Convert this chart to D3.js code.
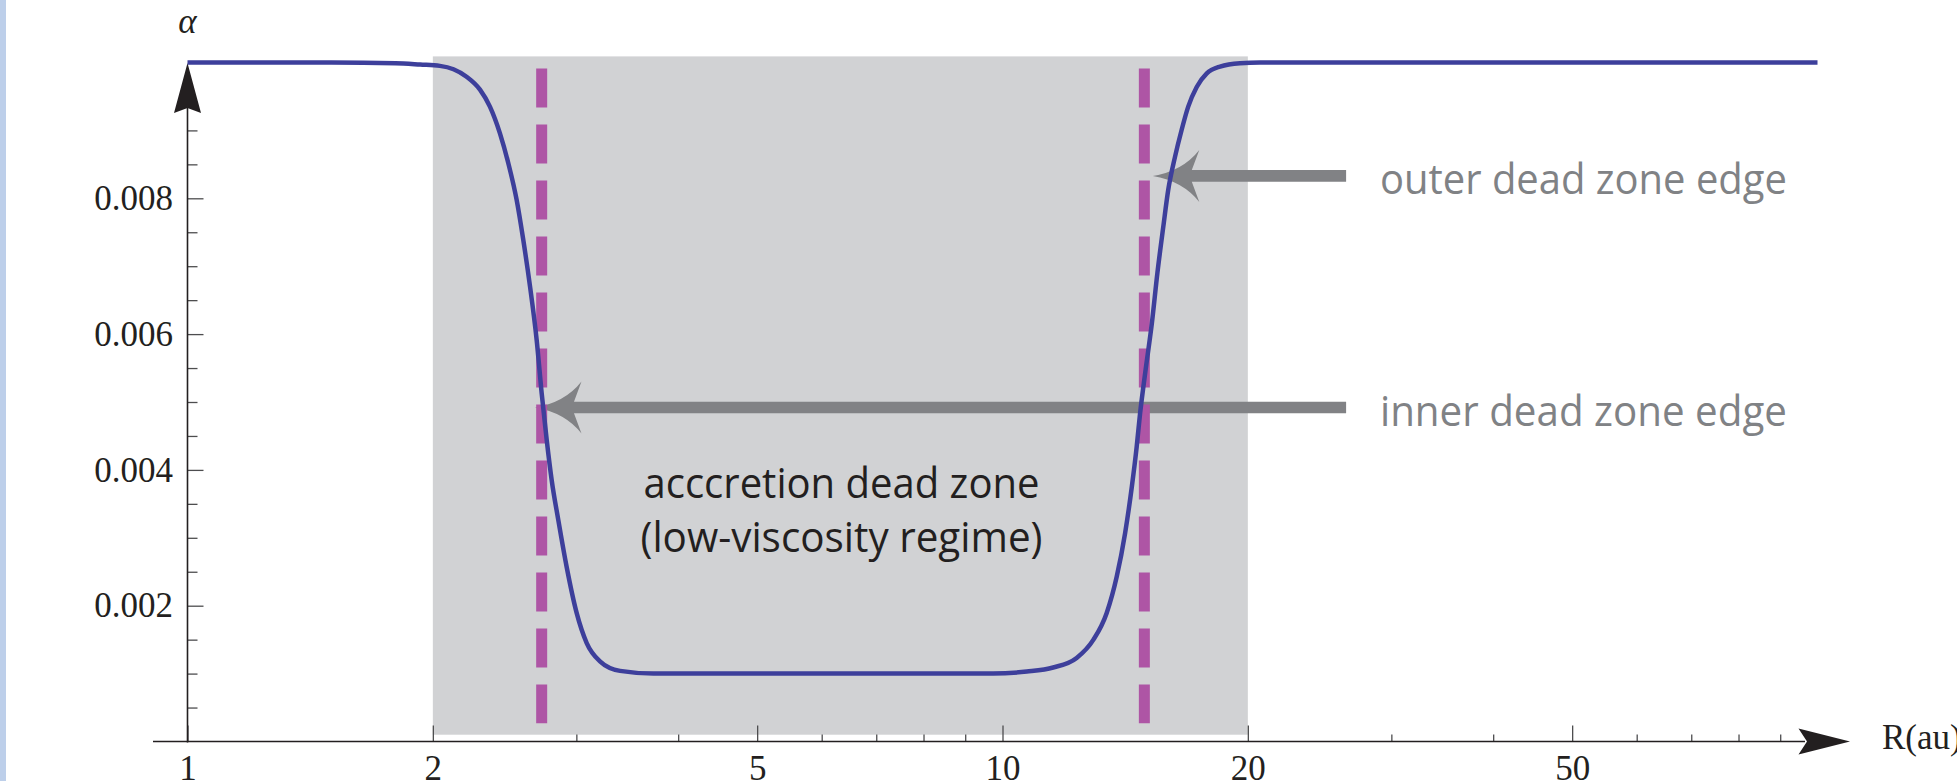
<!DOCTYPE html>
<html><head><meta charset="utf-8">
<script src="https://cdn.jsdelivr.net/npm/d3@7"></script>
<style>html,body{margin:0;padding:0;background:#fff;overflow:hidden}</style>
</head><body><svg id="chart" width="1957" height="781"></svg>
<script>
// ---- data ----
const radiusAU = [1, 1.5, 1.8, 1.93, 2.04, 2.12, 2.2, 2.285, 2.35, 2.417, 2.475, 2.534, 2.582, 2.632, 2.682, 2.72, 2.759, 2.798, 2.851, 2.919, 3.003, 3.089, 3.207, 3.394, 3.73, 4.5, 6, 8.87, 9.74, 10.71, 11.54, 12.33, 12.93, 13.42, 13.81, 14.14, 14.41, 14.61, 14.75, 14.89, 15.0, 15.25, 15.49, 15.75, 15.97, 16.28, 16.59, 16.9, 17.31, 17.81, 18.49, 19.56, 20.7, 30, 100];
const alphaValues = [0.01, 0.01, 0.00999, 0.00997, 0.00995, 0.0099, 0.00979, 0.0096, 0.00935, 0.00896, 0.00852, 0.00798, 0.00739, 0.0067, 0.00591, 0.00513, 0.00444, 0.00385, 0.00326, 0.00257, 0.00189, 0.00145, 0.00118, 0.00104, 0.001, 0.001, 0.001, 0.001, 0.001, 0.00103, 0.00109, 0.00123, 0.0015, 0.00189, 0.00243, 0.00307, 0.00375, 0.00434, 0.00483, 0.00523, 0.00552, 0.00616, 0.0069, 0.00758, 0.00812, 0.00861, 0.00901, 0.00935, 0.00964, 0.00984, 0.00994, 0.00999, 0.01, 0.01, 0.01];
const xTickMajor = [1, 2, 5, 10, 20, 50];
const xTickLabels = ["1", "2", "5", "10", "20", "50"];
const xTickMinor = [3, 4, 6, 7, 8, 9, 30, 40, 60, 70, 80, 90];
const yTickMajor = [0.002, 0.004, 0.006, 0.008];
const yTickLabels = ["0.002", "0.004", "0.006", "0.008"];
const yTickMinor = [0.0005, 0.001, 0.0015, 0.0025, 0.003, 0.0035, 0.0045, 0.005, 0.0055, 0.0065, 0.007, 0.0075, 0.0085, 0.009];
const deadZoneAU = [2, 20];
const deadZoneAlpha = [0.0001, 0.01009];
const edgeRadiiAU = [2.72, 14.93];
const edgeLineAlpha = [0.00027, 0.00991];
const annotationTexts = ["outer dead zone edge", "inner dead zone edge"];
const annotationTipAU = [15.29, 2.669];
const annotationTipAlpha = [0.00833, 0.00492];
const annotationTailAU = 26.4;
const annotationLabelAU = 29.05;
const zoneTextLines = ["acccretion dead zone", "(low-viscosity regime)"];
const xAxisTitle = "R(au)";
const yAxisTitle = "\u03B1";

// ---- drawing ----
const W = 1957, H = 781;
const svg = d3.select('#chart');
const x = d3.scaleLog().domain([1, 100]).range([187.5, 1817.5]);
const y = d3.scaleLinear().domain([0, 0.01]).range([741.5, 62.5]);
const serif = '"Liberation Serif", "Times New Roman", serif';
const sans = '"Open Sans", "Noto Sans", sans-serif';
const ink = '#231f20';

svg.append('rect').attr('x', 0).attr('y', 0).attr('width', 6).attr('height', H).attr('fill', '#bdcfea');

// dead zone band
svg.append('rect')
  .attr('x', x(deadZoneAU[0])).attr('width', x(deadZoneAU[1]) - x(deadZoneAU[0]))
  .attr('y', y(deadZoneAlpha[1])).attr('height', y(deadZoneAlpha[0]) - y(deadZoneAlpha[1]))
  .attr('fill', '#d1d2d4');

// x axis
const y0 = y(0);
function styleAxis(g) {
  g.select('.domain').remove();
  g.selectAll('.tick line').attr('stroke', '#4d4d4f').attr('stroke-width', 1.3);
  g.selectAll('.tick text').attr('fill', ink).style('font-family', serif).style('font-size', '35px');
}
svg.append('g').attr('transform', `translate(0,${y0})`)
  .call(d3.axisBottom(x).tickValues(xTickMinor).tickSize(-7).tickFormat(''))
  .call(styleAxis);
const gxMaj = svg.append('g').attr('transform', `translate(0,${y0})`)
  .call(d3.axisBottom(x).tickValues(xTickMajor).tickSize(-16).tickFormat((d, i) => xTickLabels[i]))
  .call(styleAxis);
gxMaj.selectAll('.tick text').attr('y', 38.5).attr('dy', 0);

// y axis
svg.append('g').attr('transform', `translate(${x(1)},0)`)
  .call(d3.axisLeft(y).tickValues(yTickMinor).tickSize(-10).tickFormat(''))
  .call(styleAxis);
svg.append('g').attr('transform', `translate(${x(1)},0)`)
  .call(d3.axisLeft(y).tickValues(yTickMajor).tickSize(-16).tickPadding(14.5).tickFormat((d, i) => yTickLabels[i]))
  .call(styleAxis);

// axis lines with arrowheads
const xArrowTip = 1850;
svg.append('line').attr('x1', 153).attr('x2', xArrowTip - 45).attr('y1', y0).attr('y2', y0)
  .attr('stroke', ink).attr('stroke-width', 1.6);
svg.append('path').attr('d', 'M0,0 L-51.5,-13 L-43,0 L-51.5,13 Z')
  .attr('transform', `translate(${xArrowTip},${y0})`).attr('fill', ink);
svg.append('line').attr('x1', x(1)).attr('x2', x(1)).attr('y1', y0 + 1).attr('y2', y(0.01) + 45)
  .attr('stroke', ink).attr('stroke-width', 1.6);
svg.append('path').attr('d', 'M0,0 L-13.5,50 L0,45 L13.5,50 Z')
  .attr('transform', `translate(${x(1)},${y(0.01) + 0.5})`).attr('fill', ink);

svg.append('text').attr('x', xArrowTip + 32).attr('y', y0 + 7).text(xAxisTitle)
  .attr('fill', ink).style('font-family', serif).style('font-size', '35px');
svg.append('text').attr('x', x(1)).attr('y', 33).attr('text-anchor', 'middle').text(yAxisTitle)
  .attr('fill', ink).style('font-family', serif).style('font-style', 'italic').style('font-size', '35px');

// annotation arrows (under the lines)
annotationTexts.forEach((t, i) => {
  const tx = x(annotationTipAU[i]), ty = y(annotationTipAlpha[i]);
  const len = x(annotationTailAU) - tx;
  svg.append('path')
    .attr('d', `M0,0 Q30,-5 46.5,-26 L39,-5.8 L${len},-5.8 L${len},5.8 L39,5.8 L46.5,26 Q30,5 0,0 Z`)
    .attr('transform', `translate(${tx},${ty})`)
    .attr('fill', '#818285');
  svg.append('text').attr('x', x(annotationLabelAU)).attr('y', ty + 18.5)
    .attr('textLength', 407).attr('lengthAdjust', 'spacingAndGlyphs')
    .text(t).attr('fill', '#808285').style('font-family', sans).style('font-size', '42px');
});

// dashed edge lines
svg.selectAll('line.edge').data(edgeRadiiAU).join('line').attr('class', 'edge')
  .attr('x1', d => x(d)).attr('x2', d => x(d))
  .attr('y1', y(edgeLineAlpha[1])).attr('y2', y(edgeLineAlpha[0]))
  .attr('stroke', '#ae55a5').attr('stroke-width', 11).attr('stroke-dasharray', '39 17');

// alpha curve
const pts = radiusAU.map((r, i) => [r, alphaValues[i]]);
svg.append('path').datum(pts)
  .attr('d', d3.line().x(d => x(d[0])).y(d => y(d[1])).curve(d3.curveMonotoneX))
  .attr('fill', 'none').attr('stroke', '#3d3f9b').attr('stroke-width', 4.5);

// dead zone text
const zoneStart = [643.5, 640.5], zoneWidth = [396, 402], zoneBase = [498.3, 551.7];
zoneTextLines.forEach((t, i) => {
  svg.append('text').attr('x', zoneStart[i]).attr('y', zoneBase[i])
    .attr('textLength', zoneWidth[i]).attr('lengthAdjust', 'spacingAndGlyphs')
    .text(t).attr('fill', ink).style('font-family', sans).style('font-size', '42px');
});
</script></body></html>
